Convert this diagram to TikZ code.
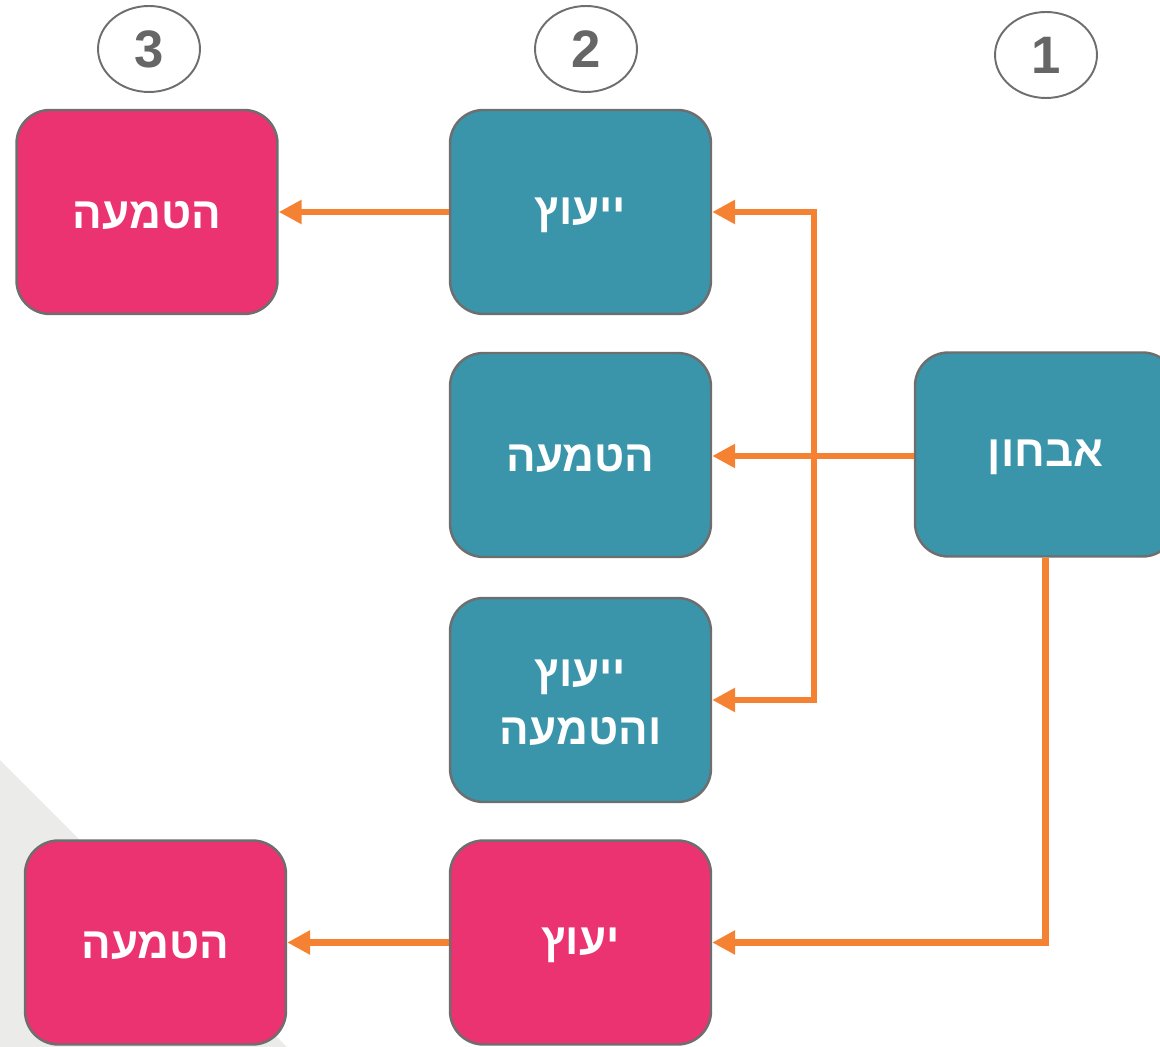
\documentclass[tikz,border=0pt]{standalone}
\usepackage{fontspec}
\setmainfont{Liberation Sans}
\newfontfamily\hebfont[Script=Hebrew]{Liberation Sans}
\TeXXeTstate=1
\usetikzlibrary{arrows.meta,shapes.geometric}
\definecolor{tealbox}{HTML}{3A95AB}
\definecolor{pinkbox}{HTML}{EC3371}
\definecolor{orangeline}{HTML}{F58232}
\definecolor{boxborder}{HTML}{6E6E6E}
\definecolor{numgrey}{HTML}{666666}
\definecolor{bggrey}{HTML}{EBEBEA}
\begin{document}
\begin{tikzpicture}[x=0.02cm,y=-0.02cm,
  box/.style={draw=boxborder, line width=1.4pt, rounded corners=19pt,
    minimum width=5.22cm, minimum height=4.08cm, text=white,
    font=\hebfont\bfseries\fontsize{25}{31}\selectfont, align=center, inner sep=0pt},
  boxtext/.style={text=white, font=\hebfont\bfseries\fontsize{25}{31}\selectfont,
    align=center, inner sep=0pt},
  tealnode/.style={box, fill=tealbox},
  pinknode/.style={box, fill=pinkbox},
  numnode/.style={ellipse, draw=boxborder, line width=1.1pt, fill=white,
    minimum width=2.04cm, minimum height=1.72cm, inner sep=0pt, text=numgrey,
    font=\bfseries\fontsize{30}{34}\selectfont},
  conn/.style={draw=orangeline, line width=3.6pt},
  arr/.style={conn, -{Triangle[length=13pt,width=13pt]}}
]
\useasboundingbox (0,0) rectangle (1160,1047);
\clip (0,0) rectangle (1160,1047);
\fill[bggrey] (0,760) -- (287,1047) -- (0,1047) -- cycle;

\node[numnode] (n3) at (149,49) {3};
\node[numnode] (n2) at (586,49) {2};
\node[numnode] (n1) at (1046,55) {1};

\node[pinknode] (pa) at (147,212) {};
\node[tealnode] (yey) at (580.5,212) {};
\node[tealnode] (hat) at (580.5,455) {};
\node[tealnode] (yh) at (580.5,700) {};
\node[pinknode] (yoz) at (580.5,942.5) {};
\node[pinknode] (pb) at (155.5,942.5) {};
\node[tealnode] (abh) at (1045.5,454.5) {};

\node[boxtext] (tpa) at ([yshift=-0.06cm]pa.center) {\beginR הטמעה\endR};
\node[boxtext] (tyey) at ([yshift=-0.06cm]yey.center) {\beginR ייעוץ\endR};
\node[boxtext] (that) at ([yshift=-0.06cm]hat.center) {\beginR הטמעה\endR};
\node[boxtext] (tyh) at ([yshift=-0.06cm]yh.center) {\beginR ייעוץ\endR\\[2pt]\beginR והטמעה\endR};
\node[boxtext] (tyoz) at ([yshift=-0.06cm]yoz.center) {\beginR יעוץ\endR};
\node[boxtext] (tpb) at ([yshift=-0.06cm]pb.center) {\beginR הטמעה\endR};
\node[boxtext] (tabh) at ([yshift=-0.06cm]abh.center) {\beginR אבחון\endR};

\coordinate (j) at (814,456);

\draw[arr] (yey.west) -- (pa.east);
\draw[arr] (abh.west |- j) -- (hat.east |- j);
\draw[arr] (j) |- (yey.east);
\draw[arr] (j) |- (yh.east);
\draw[arr] (abh.south) |- (yoz.east);
\draw[arr] (yoz.west) -- (pb.east);
\end{tikzpicture}
\end{document}
